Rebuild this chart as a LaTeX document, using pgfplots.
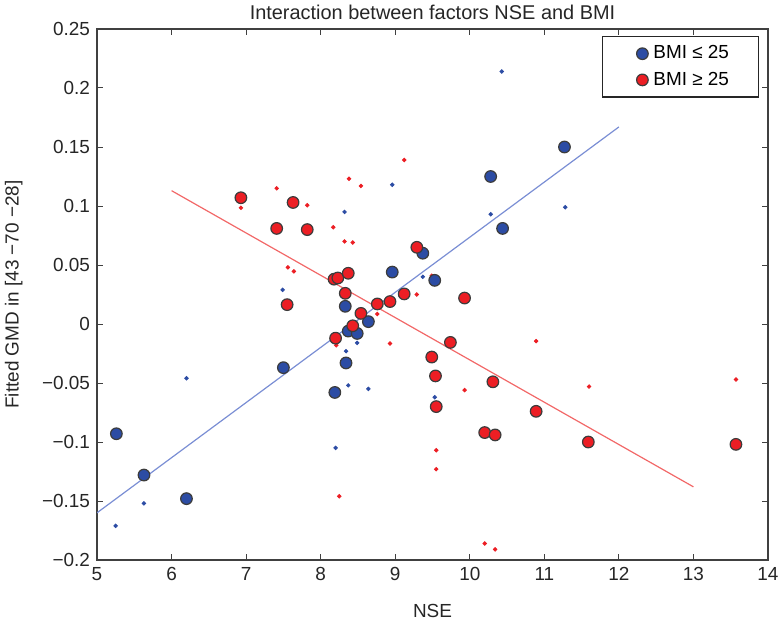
\documentclass[border=0pt]{standalone}
\usepackage{pgfplots}
\pgfplotsset{compat=1.18}
\usepackage{fontspec}
\setmainfont{Liberation Sans}
\definecolor{bfill}{RGB}{44,76,164}
\definecolor{rfill}{RGB}{236,30,36}
\definecolor{bline}{RGB}{122,142,212}
\definecolor{rline}{RGB}{242,104,104}
\definecolor{edge}{RGB}{60,60,60}
\begin{document}
\begin{tikzpicture}[font=\fontsize{9.5}{11.5}\selectfont]
\begin{axis}[
  name=ax, scale only axis, width=335.5bp, height=265.5bp,
  xmin=5, xmax=14, ymin=-0.2, ymax=0.25,
  xtick={5,6,7,8,9,10,11,12,13,14},
  xticklabels={5,6,7,8,9,10,11,12,13,14},
  ytick={-0.2,-0.15,-0.1,-0.05,0,0.05,0.1,0.15,0.2,0.25},
  yticklabels={−0.2,−0.15,−0.1,−0.05,0,0.05,0.1,0.15,0.2,0.25},
  tick label style={font=\fontsize{9.5}{11.5}\selectfont, text=black!85},
  tick align=inside, major tick length=2.8bp, tick pos=both,
  tick style={black!75, line width=0.5bp},
  axis line style={black!75, line width=0.7bp},
  title={Interaction between factors NSE and BMI},
  title style={font=\fontsize{10}{12}\selectfont, text=black!85, at={(0.5,1)}, anchor=base, yshift=-1bp},
  xlabel={NSE},
  xlabel style={font=\fontsize{9.5}{11.5}\selectfont, text=black!85, at={(axis description cs:0.5,-0.096)}, anchor=center},
  ylabel={Fitted GMD in [43 −70 −28]},
  ylabel style={font=\fontsize{9.5}{11.5}\selectfont, text=black!85, at={(axis description cs:-0.124,0.5)}, anchor=center, rotate=0},
  legend style={at={(0.9866,0.9868)}, anchor=north east, draw=black!85, line width=0.6bp,
    inner xsep=0bp, inner ysep=3bp, font=\fontsize{9.5}{11.5}\selectfont, row sep=2bp,
    nodes={inner sep=1.5bp}},
  legend cell align=left,
  legend image code/.code={\path[draw=none, fill=none] (0bp,-3bp) rectangle (24bp,3bp); \draw[#1, only marks] plot coordinates {(20bp,0bp)};},
]
% fit lines
\addplot[bline, line width=0.6bp, forget plot] coordinates {(5,-0.160) (12,0.167)};
\addplot[rline, line width=0.6bp, forget plot] coordinates {(6,0.113) (13,-0.138)};
% small raw points
\addplot[only marks, mark=*, mark size=0.9bp, bfill, mark options={draw=bfill, fill=bfill}, forget plot] coordinates {
(5.25,-0.171) (5.63,-0.152) (6.20,-0.046) (7.49,0.029) (8.20,-0.105) (8.32,0.095)
(8.34,-0.023) (8.37,-0.052) (8.49,-0.016) (8.64,-0.055) (8.96,0.118) (9.37,0.040)
(9.53,-0.062) (10.28,0.093) (10.43,0.214) (11.28,0.099)
};
\addplot[only marks, mark=*, mark size=0.9bp, rfill, mark options={draw=rfill, fill=rfill}, forget plot] coordinates {
(6.93,0.0985) (7.41,0.115) (7.56,0.048) (7.64,0.0446) (7.82,0.1007) (8.17,0.082)
(8.21,-0.018) (8.25,-0.146) (8.32,0.070) (8.38,0.123) (8.43,0.069) (8.54,0.117)
(8.76,0.0085) (8.93,-0.0165) (9.12,0.139) (9.29,0.025) (9.49,0.041) (9.55,-0.107)
(9.55,-0.123) (9.93,-0.056) (10.20,-0.186) (10.34,-0.191) (10.89,-0.0145)
(11.60,-0.053) (13.57,-0.047)
};
% fitted points
\addplot[only marks, mark=*, mark size=2.9bp, mark options={draw=edge, fill=bfill, line width=0.6bp}] coordinates {
(5.26,-0.093) (5.63,-0.128) (6.20,-0.148) (7.50,-0.037) (8.19,-0.058) (8.34,-0.033)
(8.33,0.015) (8.37,-0.006) (8.49,-0.008) (8.64,0.002) (8.96,0.044) (9.37,0.060)
(9.53,0.037) (10.28,0.125) (10.44,0.081) (11.27,0.150)
};
\addlegendentry{\makebox[51bp][l]{BMI ≤ 25}}
\addplot[only marks, mark=*, mark size=2.9bp, mark options={draw=edge, fill=rfill, line width=0.6bp}] coordinates {
(6.93,0.107) (7.41,0.081) (7.55,0.0164) (7.63,0.103) (7.82,0.080) (8.18,0.038)
(8.20,-0.012) (8.23,0.039) (8.33,0.026) (8.37,0.043) (8.43,-0.0015) (8.54,0.009)
(8.76,0.017) (8.93,0.019) (9.12,0.0255) (9.29,0.065) (9.49,-0.028) (9.54,-0.044)
(9.55,-0.070) (9.74,-0.0156) (9.93,0.022) (10.20,-0.092) (10.31,-0.049) (10.34,-0.094)
(10.89,-0.074) (11.59,-0.100) (13.57,-0.102)
};
\addlegendentry{\makebox[51bp][l]{BMI ≥ 25}}
\end{axis}
\pgfresetboundingbox
\path ([xshift=-48.5bp,yshift=-32bp]ax.south west) rectangle ([xshift=6.5bp,yshift=14.5bp]ax.north east);
\end{tikzpicture}
\end{document}
